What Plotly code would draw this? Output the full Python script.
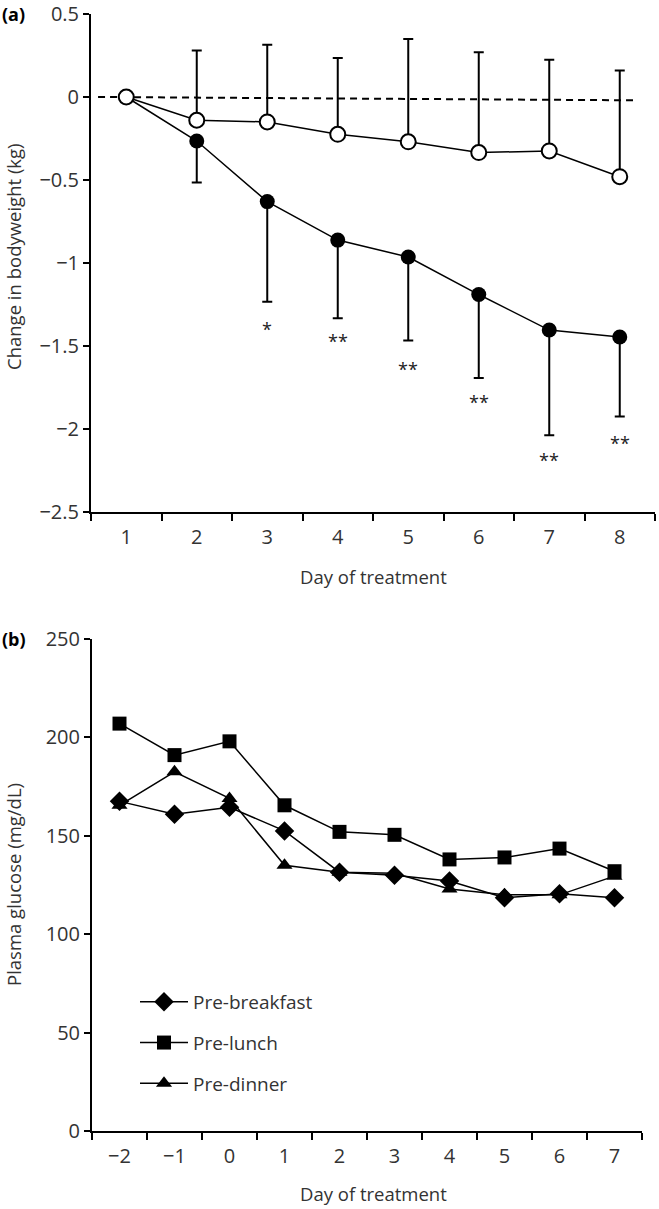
import plotly.graph_objects as go

# ---- panel (a): change in bodyweight ----
days_a = [1, 2, 3, 4, 5, 6, 7, 8]
open_mean = [0, -0.14, -0.15, -0.225, -0.27, -0.335, -0.325, -0.48]
open_sd_up = [0, 0.42, 0.465, 0.46, 0.62, 0.605, 0.55, 0.64]
filled_mean = [0, -0.265, -0.63, -0.862, -0.964, -1.19, -1.404, -1.446]
filled_sd_down = [0, 0.25, 0.603, 0.471, 0.503, 0.503, 0.634, 0.479]
star_days = [3, 4, 5, 6, 7, 8]
star_text = ['*', '**', '**', '**', '**', '**']
star_y = [-1.37, -1.44, -1.61, -1.81, -2.157, -2.056]
ref_x = [0.6, 8.25]
ref_y = [0, -0.02]

# ---- panel (b): plasma glucose ----
days_b = [-2, -1, 0, 1, 2, 3, 4, 5, 6, 7]
pre_breakfast = [167.5, 161, 164.5, 152.5, 131.5, 130, 127, 118.5, 120.5, 118.5]
pre_lunch = [207, 191, 198, 165.5, 152, 150.5, 138, 139, 143.5, 132]
pre_dinner = [165.5, 182.5, 169, 135, 131.5, 131, 123, 120, 120, 129.5]

W, H = 659, 1209
FONT = 'Open Sans'
fig = go.Figure()

fig.add_trace(go.Scatter(x=ref_x, y=ref_y, mode='lines', showlegend=False,
                         line=dict(color='black', width=2, dash='7px,5px')))
fig.add_trace(go.Scatter(x=days_a, y=filled_mean, mode='markers', showlegend=False,
                         marker=dict(size=1, color='rgba(0,0,0,0)'),
                         error_y=dict(type='data', symmetric=False, array=[0] * 8,
                                      arrayminus=filled_sd_down, color='black',
                                      thickness=2, width=5)))
fig.add_trace(go.Scatter(x=days_a, y=open_mean, mode='markers', showlegend=False,
                         marker=dict(size=1, color='rgba(0,0,0,0)'),
                         error_y=dict(type='data', symmetric=False, array=open_sd_up,
                                      arrayminus=[0] * 8, color='black',
                                      thickness=2, width=5)))
fig.add_trace(go.Scatter(x=days_a, y=filled_mean, mode='lines+markers', showlegend=False,
                         line=dict(color='black', width=1.5),
                         marker=dict(symbol='circle', size=15, color='black')))
fig.add_trace(go.Scatter(x=days_a, y=open_mean, mode='lines+markers', showlegend=False,
                         line=dict(color='black', width=1.5),
                         marker=dict(symbol='circle', size=15, color='white',
                                     line=dict(color='black', width=2))))

series_b = [('Pre-breakfast', pre_breakfast, 'diamond', 15),
            ('Pre-lunch', pre_lunch, 'square', 14),
            ('Pre-dinner', pre_dinner, 'triangle-up', 14)]
for name, vals, sym, sz in series_b:
    fig.add_trace(go.Scatter(x=days_b, y=vals, name=name, legendgroup=name,
                             mode='lines+markers', xaxis='x2', yaxis='y2',
                             line=dict(color='black', width=1.5),
                             marker=dict(symbol=sym, size=sz, color='black')))

for d, t, y in zip(star_days, star_text, star_y):
    fig.add_annotation(x=d, y=y, text=t, showarrow=False, yshift=-5,
                       font=dict(family=FONT, size=18, color='#222'))

axis_common = dict(showline=True, linecolor='black', linewidth=2, showgrid=False,
                   zeroline=False, ticks='outside', ticklen=6, tickwidth=2,
                   automargin=False, tickcolor='black',
                   tickfont=dict(family=FONT, size=20, color='#333'))

fig.update_layout(
    width=W, height=H, plot_bgcolor='white', paper_bgcolor='white',
    margin=dict(l=0, r=0, t=0, b=0, pad=0, autoexpand=False),
    xaxis=dict(axis_common, domain=[91 / W, 655 / W], range=[0.5, 8.5],
               tickvals=days_a, ticks='', anchor='y', ticklabelstandoff=6,
               minor=dict(tickvals=[i + 0.5 for i in range(0, 9)], ticks='outside',
                          ticklen=7, tickwidth=2, tickcolor='black')),
    yaxis=dict(axis_common, domain=[1 - 512 / H, 1 - 14 / H], range=[-2.5, 0.5],
               dtick=0.5, anchor='x'),
    xaxis2=dict(axis_common, domain=[92 / W, 642 / W], range=[-2.5, 7.5],
                tickvals=days_b, ticks='', anchor='y2', ticklabelstandoff=6,
                minor=dict(tickvals=[i + 0.5 for i in range(-3, 8)], ticks='outside',
                           ticklen=7, tickwidth=2, tickcolor='black')),
    yaxis2=dict(axis_common, domain=[1 - 1131 / H, 1 - 639 / H], range=[0, 250],
                dtick=50, anchor='x2'),
    legend=dict(x=135 / W, y=1 - 983 / H, xanchor='left', yanchor='top',
                tracegroupgap=13, itemwidth=48, bgcolor='rgba(0,0,0,0)',
                font=dict(family=FONT, size=19, color='#333')),
)

text_font = dict(family=FONT, size=18.5, color='#333')
fig.add_annotation(x=0, y=1 - 14 / H, xref='paper', yref='paper', xanchor='left',
                   yanchor='middle', text='<b>(a)</b>', showarrow=False,
                   font=dict(family=FONT, size=18, color='black'))
fig.add_annotation(x=0, y=1 - 639 / H, xref='paper', yref='paper', xanchor='left',
                   yanchor='middle', text='<b>(b)</b>', showarrow=False,
                   font=dict(family=FONT, size=18, color='black'))
titles = [('Change in bodyweight (kg)', 13, 257, -90),
          ('Day of treatment', 373, 577, 0),
          ('Plasma glucose (mg/dL)', 13, 885, -90),
          ('Day of treatment', 373, 1193, 0)]
for txt, px_x, px_y, ang in titles:
    fig.add_annotation(x=px_x / W, y=1 - px_y / H, xref='paper', yref='paper',
                       xanchor='center', yanchor='middle', textangle=ang,
                       text=txt, showarrow=False, font=text_font)

fig.write_html('out.html', config={'displayModeBar': False},
               post_script="document.body.style.margin='0';")
